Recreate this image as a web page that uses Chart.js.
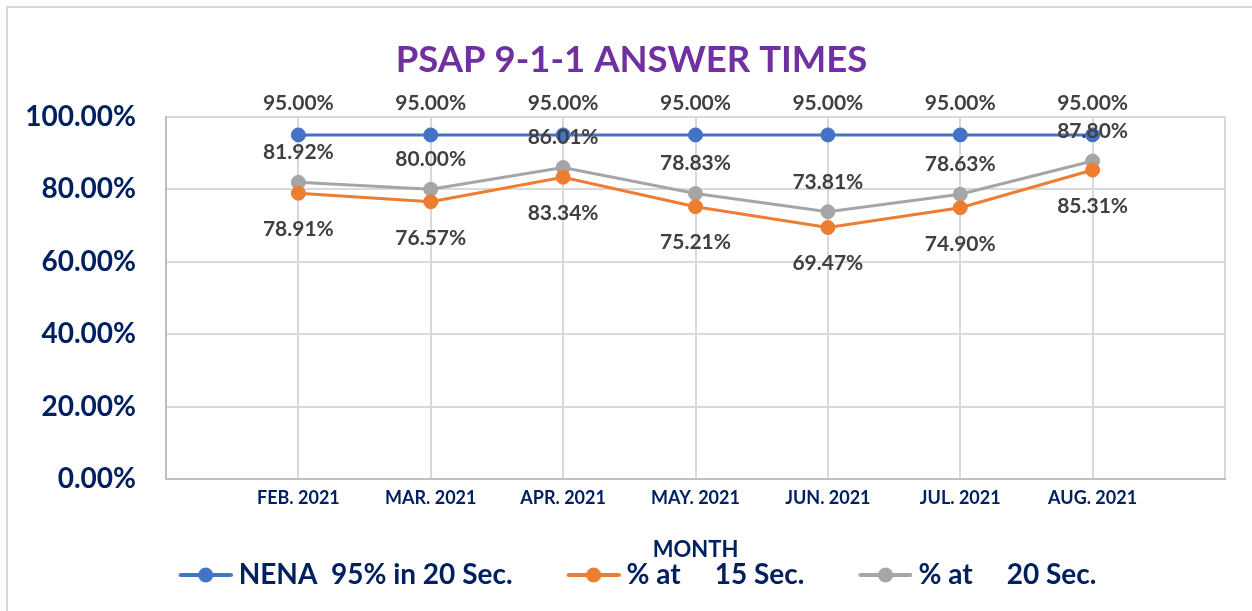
<!DOCTYPE html>
<html>
<head>
<meta charset="utf-8">
<script src="https://cdn.jsdelivr.net/npm/chart.js@4.4.1/dist/chart.umd.min.js"></script>
<style>
  html, body { margin: 0; padding: 0; background: #fff; overflow: hidden; }
  #frame { position: absolute; left: 6px; top: 6px; width: 1400px; height: 800px;
           border-left: 2px solid #d9d9d9; border-top: 2px solid #d9d9d9; }
  #wrap { position: absolute; left: 0; top: 0; width: 1252px; height: 611px; }
</style>
</head>
<body>
<div id="frame"></div>
<div id="wrap"><canvas id="c1"></canvas></div>
<script>
(function(divId){
    // values
    var months = ['FEB. 2021', 'MAR. 2021', 'APR. 2021', 'MAY. 2021', 'JUN. 2021', 'JUL. 2021', 'AUG. 2021'];
    var nena = [95.00, 95.00, 95.00, 95.00, 95.00, 95.00, 95.00];
    var at15 = [78.91, 76.57, 83.34, 75.21, 69.47, 74.90, 85.31];
    var at20 = [81.92, 80.00, 86.01, 78.83, 73.81, 78.63, 87.80];
    var yTicks = [0, 20, 40, 60, 80, 100];

    var navy = '#002060';
    var colors = ['#4472C4', '#ED7D31', '#A5A5A5'];
    var labelOffsets = [-32, 36, -30];

    // empty slot on each side, like the original category axis
    var pad = (arr) => [null].concat(arr, [null]);

    // line + dot legend marks, with blank space on the left for item spacing
    var markW = 112, markH = 30;
    var legendMarks = colors.map(function(col){
        var c = document.createElement('canvas');
        c.width = markW; c.height = markH;
        var g = c.getContext('2d');
        g.strokeStyle = col; g.fillStyle = col;
        g.lineWidth = 4; g.lineCap = 'round';
        g.beginPath(); g.moveTo(markW - 52, markH / 2); g.lineTo(markW - 2, markH / 2); g.stroke();
        g.beginPath(); g.arc(markW - 27, markH / 2, 7.5, 0, Math.PI * 2); g.fill();
        return c;
    });

    var pointLabels = {
        id: 'pointLabels',
        afterLayout(chart) {
            // the title sits a bit right of the canvas centre in the original
            chart.titleBlock.left += 38;
        },
        afterDatasetsDraw(chart) {
            var ctx = chart.ctx;
            ctx.save();
            ctx.font = 'bold 21px Lato';
            ctx.fillStyle = '#404040';
            ctx.textAlign = 'center';
            ctx.textBaseline = 'middle';
            chart.data.datasets.forEach(function(ds, i){
                chart.getDatasetMeta(i).data.forEach(function(pt, j){
                    var v = ds.data[j];
                    if (v == null) return;
                    ctx.fillText(v.toFixed(2) + '%', pt.x, pt.y + labelOffsets[i]);
                });
            });
            ctx.restore();
        }
    };

    Chart.defaults.font.family = 'Lato';
    Chart.defaults.font.weight = 'bold';

    var mk = (label, values, i) => ({
        label: label,
        data: pad(values),
        borderColor: colors[i],
        backgroundColor: colors[i],
        pointBackgroundColor: colors[i],
        pointBorderColor: colors[i],
        pointRadius: 7,
        pointBorderWidth: 1,
        borderWidth: 3,
        fill: false,
        tension: 0
    });

    var data = {
        labels: pad(months).map((m) => m || ''),
        datasets: [
            mk('NENA  95% in 20 Sec.', nena, 0),
            mk('% at     15 Sec.', at15, 1),
            mk('% at     20 Sec.', at20, 2)
        ]
    };

    var options = {
        responsive: true,
        maintainAspectRatio: false,
        animation: false,
        layout: { padding: { left: 0, right: 27, top: 0, bottom: 12 } },
        plugins: {
            tooltip: { enabled: false },
            title: {
                display: true,
                text: 'PSAP 9-1-1 ANSWER TIMES',
                color: '#7030A0',
                font: { size: 36.5, weight: 'bold', lineHeight: 1.2 },
                padding: { top: 38, bottom: 35 }
            },
            legend: {
                position: 'bottom',
                labels: {
                    color: navy,
                    font: { size: 28, weight: 'bold' },
                    usePointStyle: true,
                    pointStyleWidth: 96,
                    padding: 4,
                    generateLabels(chart) {
                        var items = Chart.defaults.plugins.legend.labels.generateLabels(chart);
                        items.forEach((it) => { it.pointStyle = legendMarks[it.datasetIndex]; });
                        return items;
                    }
                }
            }
        },
        scales: {
            x: {
                offset: false,
                grid: { color: '#D9D9D9', lineWidth: 2, drawTicks: false },
                border: { color: '#BFBFBF', width: 2 },
                ticks: { color: navy, font: { size: 18, weight: 'bold' }, padding: 8, maxRotation: 0, autoSkip: false },
                title: {
                    display: true, text: 'MONTH', color: navy,
                    font: { size: 22, weight: 'bold', lineHeight: 1 },
                    padding: { top: 22, bottom: -4 }
                }
            },
            y: {
                min: yTicks[0],
                max: yTicks[yTicks.length - 1],
                afterFit: (scale) => { scale.width = 166; },
                afterBuildTicks: (scale) => { scale.ticks = yTicks.map((v) => ({ value: v })); },
                grid: { color: '#D9D9D9', lineWidth: 2, drawTicks: false },
                border: { color: '#BFBFBF', width: 2 },
                ticks: {
                    color: navy,
                    font: { size: 28, weight: 'bold' },
                    padding: 30,
                    callback: (v) => v.toFixed(2) + '%'
                }
            }
        }
    };

    var div = document.getElementById(divId);
    if (!div)
        return;

    var ctx = div.getContext("2d");
    var chart = new Chart(ctx, {
        type: 'line',
        data: data,
        options: options,
        plugins: [pointLabels]
    });
})("c1");
</script>
</body>
</html>
